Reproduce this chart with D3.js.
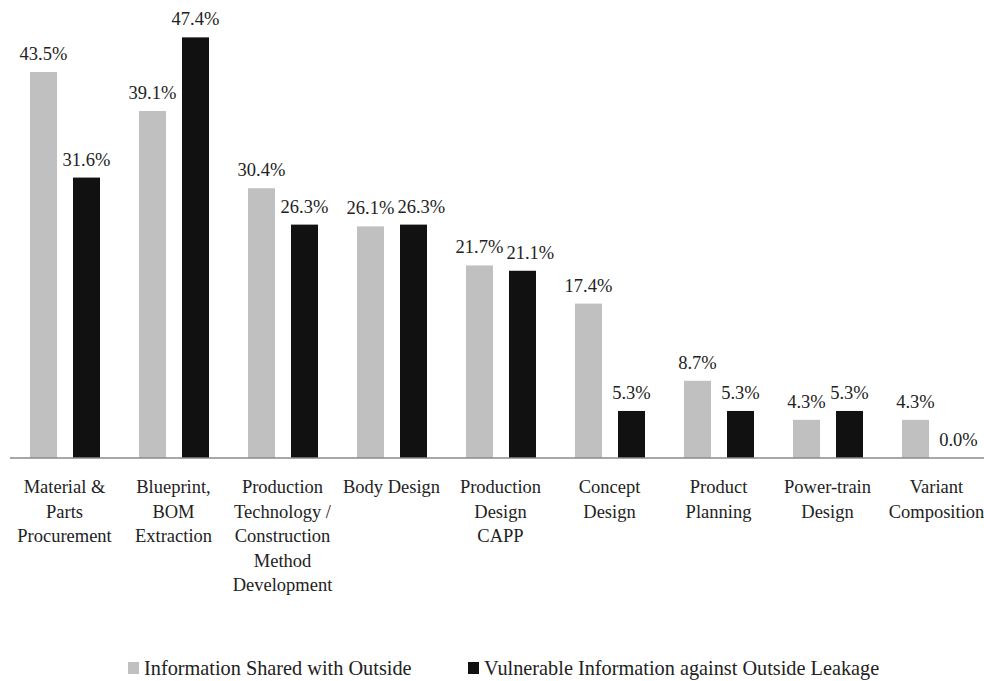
<!DOCTYPE html>
<html>
<head>
<meta charset="utf-8">
<script src="https://cdnjs.cloudflare.com/ajax/libs/d3/7.8.5/d3.min.js"></script>
<style>
  body { margin: 0; background: #fff; }
</style>
</head>
<body>
<div id="container"></div>
<script>
// categories (label lines) and the two series, in %
const categories = [
    ["Material &", "Parts", "Procurement"],
    ["Blueprint,", "BOM", "Extraction"],
    ["Production", "Technology /", "Construction", "Method", "Development"],
    ["Body Design"],
    ["Production", "Design", "CAPP"],
    ["Concept", "Design"],
    ["Product", "Planning"],
    ["Power-train", "Design"],
    ["Variant", "Composition"]
];
const shared = [43.5, 39.1, 30.4, 26.1, 21.7, 17.4, 8.7, 4.3, 4.3];
const vulnerable = [31.6, 47.4, 26.3, 26.3, 21.1, 5.3, 5.3, 5.3, 0.0];
const seriesNames = ["Information Shared with Outside", "Vulnerable Information against Outside Leakage"];
const seriesColors = ["#c0c0c0", "#111111"];

const width = 984, height = 681;
const baseY = 458;
const serif = "'Liberation Serif', 'DejaVu Serif', serif";

const svg = d3.select("#container").append("svg")
    .attr("width", width)
    .attr("height", height)
    .attr("font-family", serif)
    .style("font-family", serif);

const x0 = d3.scaleBand()
    .domain(d3.range(categories.length))
    .range([10, 991])
    .padding(0);

const x1 = d3.scaleBand()
    .domain([0, 1])
    .range([20, 90])
    .paddingInner(0.372)
    .paddingOuter(0);

const y = d3.scaleLinear()
    .domain([0, 50])
    .range([baseY, baseY - 50 * 8.874]);

const rows = categories.map((c, i) => ({ i: i, values: [shared[i], vulnerable[i]] }));

const groups = svg.selectAll("g.group")
    .data(rows)
    .enter().append("g")
    .attr("class", "group")
    .attr("transform", d => `translate(${x0(d.i)},0)`);

groups.selectAll("rect")
    .data(d => d.values.map((v, s) => ({ v: v, s: s })))
    .enter().append("rect")
    .attr("x", d => x1(d.s))
    .attr("width", x1.bandwidth())
    .attr("y", d => y(d.v))
    .attr("height", d => baseY - y(d.v))
    .attr("fill", d => seriesColors[d.s]);

// value labels above bars
groups.selectAll("text.val")
    .data(d => d.values.map((v, s) => ({ v: v, s: s })))
    .enter().append("text")
    .attr("class", "val")
    .attr("x", d => x1(d.s) + x1.bandwidth() / 2)
    .attr("y", d => y(d.v) - 12)
    .attr("text-anchor", "middle")
    .attr("fill", "#222")
    .style("font-size", "18.5px")
    .text(d => d.v.toFixed(1) + "%");

// push the second label right when it runs into the first one (like Excel does)
groups.each(function() {
    const labels = d3.select(this).selectAll("text.val").nodes();
    const a = labels[0].getBBox(), b = labels[1].getBBox();
    const vertical = a.y < b.y + b.height && b.y < a.y + a.height;
    const overlap = a.x + a.width + 3 - b.x;
    if (vertical && overlap > 0) {
        d3.select(labels[1]).attr("dx", overlap);
    }
});

// baseline
svg.append("line")
    .attr("x1", 10)
    .attr("x2", width)
    .attr("y1", baseY)
    .attr("y2", baseY)
    .attr("stroke", "#8a8a8a")
    .attr("stroke-width", 1.5);

// category labels
groups.append("text")
    .attr("text-anchor", "middle")
    .attr("fill", "#222")
    .style("font-size", "18.5px")
    .selectAll("tspan")
    .data(d => categories[d.i])
    .enter().append("tspan")
    .attr("x", x0.bandwidth() / 2)
    .attr("y", (d, k) => 493 + k * 24.6)
    .text(d => d);

// legend
const legendX = [128, 468];
const legend = svg.selectAll("g.legend")
    .data(seriesNames)
    .enter().append("g")
    .attr("class", "legend")
    .attr("transform", (d, i) => `translate(${legendX[i]},662)`);

legend.append("rect")
    .attr("width", 11)
    .attr("height", 12)
    .attr("fill", (d, i) => seriesColors[i]);

legend.append("text")
    .attr("x", 16)
    .attr("y", 13)
    .attr("fill", "#222")
    .style("font-size", "20.3px")
    .text(d => d);
</script>
</body>
</html>
